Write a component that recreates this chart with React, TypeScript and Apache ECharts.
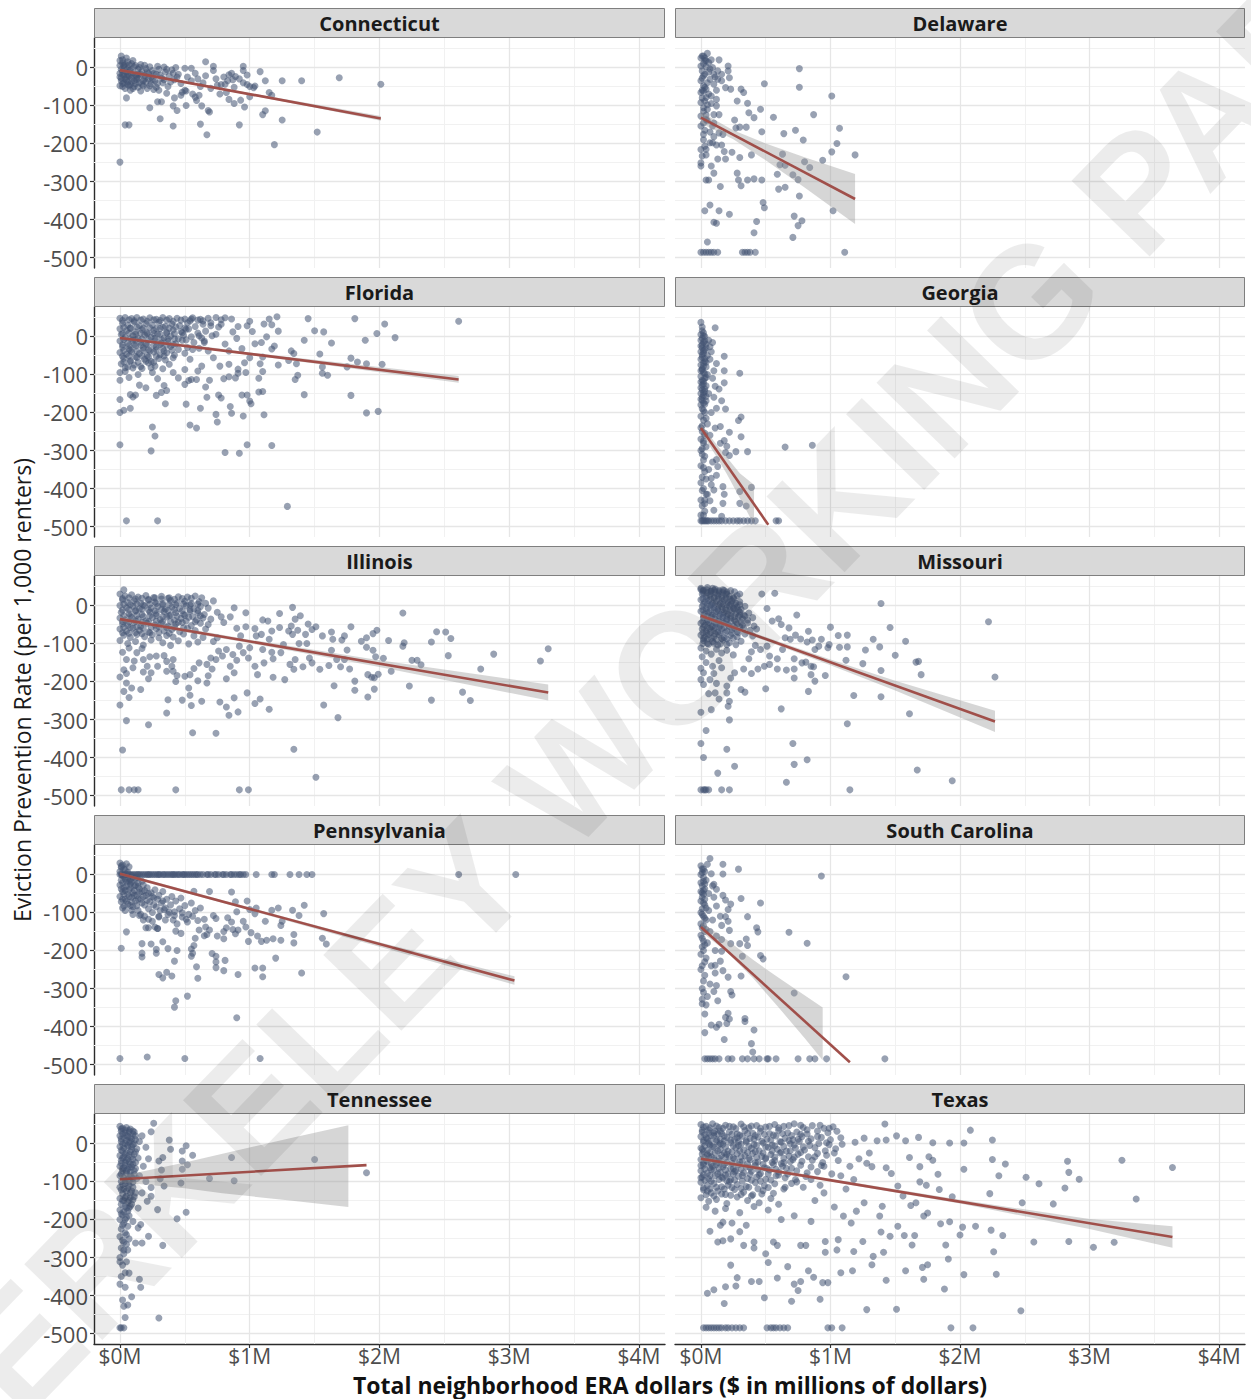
import React, { useEffect, useRef } from "react";
import * as echarts from "echarts";

type Pt = [number, number];
type BandRow = [number, number, number]; // [x, lower, upper]

// ---- facet order ----
const states = [
  "Connecticut", "Delaware", "Florida", "Georgia", "Illinois",
  "Missouri", "Pennsylvania", "South Carolina", "Tennessee", "Texas",
];

// ---- axis ticks ----
const yTicks = [0, -100, -200, -300, -400, -500];
const yMinor = [50, -50, -150, -250, -350, -450];
const xTicks = [0, 1, 2, 3, 4];
const xMinor = [0.5, 1.5, 2.5, 3.5];
const xTickLabel = (v: number) => `$${v}M`;

// ---- tract points: [ERA dollars ($M), eviction prevention rate] ----
const connecticutPts: Pt[] = [
  [0.01, 30], [0.05, 25], [0, 18], [0.02, 12], [0.04, 8], [0, 5], [0.03, 2], [0.06, -2], [0.01, -5], [0.08, -6],
  [0.02, -10], [0.05, -12], [0, -15], [0.1, -14], [0.03, -20], [0.07, -22], [0, -25], [0.12, -20], [0.04, -30], [0.09, -28],
  [0.01, -35], [0.06, -38], [0.13, -32], [0.02, -42], [0.08, -45], [0, -48], [0.15, -40], [0.11, -50], [0.04, -55], [0.18, -48],
  [0.14, -5], [0.17, -10], [0.2, -3], [0.22, -15], [0.19, -22], [0.25, -8], [0.24, -25], [0.28, -18], [0.3, -5], [0.27, -35],
  [0.32, -28], [0.35, -12], [0.33, -40], [0.38, -22], [0.4, -6], [0.42, -32], [0.37, -50], [0.45, -18], [0.47, -42], [0.21, -55],
  [0.26, -58], [0.16, -62], [0.08, -60], [0.3, -60], [0.12, 5], [0.09, 10], [0.16, 8], [0.23, 2], [0.29, 3], [0.34, 1],
  [0.43, 0], [0.5, -2], [0.52, -25], [0.55, -35], [0.58, -15], [0.6, -30], [0.62, -50], [0.64, -40], [0.66, -22], [0.7, -55],
  [0.72, -8], [0.74, -30], [0.78, -45], [0.8, -25], [0.83, -35], [0.86, -15], [0.88, -52], [0.92, -30], [0.95, -40], [0.98, -20],
  [1.0, -50], [0.5, -60], [0.56, -70], [0.48, -65], [0.06, -20], [0.11, -35], [0.19, -30], [0.07, -8], [0.14, -18], [0.24, -42],
  [0.55, -2], [0.66, 15], [0.72, 3], [0.95, 3], [0.95, -8], [1.08, -11], [1.12, -35], [1.25, -35], [1.4, -35], [1.69, -27],
  [2.01, -44], [0.05, -80], [0.23, -106], [0.31, -135], [0.41, -154], [0.04, -151], [0.07, -151], [0, -249], [0.62, -149], [0.67, -177],
  [0.92, -151], [1.1, -124], [1.12, -114], [1.25, -138], [1.19, -203], [1.52, -170], [0.29, -90], [0.32, -90], [0.41, -101], [0.44, -113],
  [0.51, -100], [0.59, -87], [0.63, -101], [0.68, -113], [0.69, -117], [0.84, -84], [0.88, -95], [0.96, -104], [0.93, -86], [0.82, -66],
  [0.81, -44], [0.75, -47], [0.61, -73], [0.47, -73], [0.51, -62], [1.0, -77], [1.03, -53], [1.15, -66], [1.17, -73], [0.87, -32],
  [0.84, -19], [0.89, -24], [0.98, -45], [1.04, -49], [0.36, -68], [0.42, -80], [0.58, -78], [0.77, -70],
  [0.02, 20], [0.06, 15], [0.1, 18], [0.03, 5], [0.07, 7], [0.11, 2], [0.15, 0], [0.19, 6], [0.02, -18], [0.05, -25],
  [0.09, -19], [0.13, -25], [0.16, -18], [0.21, -12], [0.26, -16], [0.31, -20], [0.01, -28], [0.05, -33], [0.09, -36], [0.14, -28],
  [0.18, -35], [0.22, -30], [0.03, -40], [0.07, -48], [0.12, -42], [0.17, -45], [0.2, -38], [0.25, -32], [0.29, -42], [0.34, -32],
  [0.02, -50], [0.06, -45], [0.1, -55], [0.14, -52], [0.23, -48], [0.28, -52], [0.39, -38], [0.44, -25], [0.36, -5], [0.41, -15],
];

const delawarePts: Pt[] = [
  [0.05, 37], [0.04, 18], [0.14, 20], [0.21, 4], [0.21, -9], [0.16, -18], [0.22, -27], [0.13, -31], [0.19, -53], [0.23, -57],
  [0.31, -57], [0.33, -66], [0.49, -43], [0.76, -3], [0.76, -52], [1.01, -75], [0.28, -88], [0.36, -94], [0.46, -110], [0.56, -131],
  [0.37, -119], [0.41, -132], [0.87, -124], [0.26, -138], [0.27, -159], [0.35, -157], [0.3, -157], [0.47, -169], [0.73, -165], [1.07, -160],
  [0.64, -174], [0.79, -191], [0.14, -172], [0.17, -176], [0.1, -182], [0.09, -198], [0.12, -204], [0.16, -204], [1.05, -200], [1.01, -222],
  [1.19, -230], [0.94, -244], [0.8, -248], [0.84, -263], [0.63, -228], [0.65, -257], [0.71, -282], [0.75, -295], [0.61, -256], [0.59, -281],
  [0.39, -230], [0.3, -237], [0.24, -223], [0.19, -241], [0.13, -241], [0.18, -221], [0.04, -230], [0, -259], [0.08, -259], [0.1, -278],
  [0.04, -296], [0.06, -296], [0.28, -278], [0.29, -296], [0.31, -311], [0.15, -313], [0.36, -296], [0.41, -293], [0.47, -296], [0.6, -320],
  [0.65, -315], [0.76, -338], [0.48, -355], [0.49, -369], [0.07, -362], [0.03, -377], [0.14, -377], [0.22, -386], [0.1, -407], [0.12, -410],
  [0.43, -405], [0.41, -435], [0.72, -391], [0.78, -403], [0.75, -416], [0.71, -447], [1.02, -377], [0.05, -459],
  [0, -486], [0.02, -486], [0.04, -486], [0.06, -486], [0.08, -486], [0.1, -486], [0.13, -486],
  [0.32, -486], [0.34, -486], [0.36, -486], [0.38, -486], [0.42, -486], [1.11, -486],
  [0, 4], [0.01, -9], [0.02, -22], [0, -35], [0.02, -48], [0, -66], [0.04, -79], [0, -92], [0.02, -106], [0.06, 13],
  [0.07, -4], [0.1, -18], [0.07, -31], [0.1, -44], [0.04, -57], [0.08, -75], [0.12, -84], [0.03, 18], [0.13, -9], [0.16, -35],
  [0.12, -101], [0, -128], [0.02, -146], [0, -154], [0.02, -176], [0.03, -207], [0, -216], [0.01, -233], [0, -251], [0.07, -198],
  [0.09, -154], [0.04, -137], [0.1, -124], [0.14, -124], [0.1, -146], [0, 25], [0.02, 30], [0.01, -60], [0.05, -110], [0.03, -165],
  [0.01, 30], [0.03, 25], [0.02, 10], [0.04, 2], [0.06, -12], [0.03, -18], [0.01, -28], [0.05, -40], [0.03, -52], [0.02, -62],
  [0.06, -70], [0.01, -80], [0.03, -88], [0.05, -98], [0.02, -115], [0.04, -125], [0.08, 20], [0.09, 0], [0.11, -25], [0.12, -60],
  [0.08, -95], [0.05, -140], [0.07, -170], [0.02, -190], [0.04, -215],
];

const floridaPts: Pt[] = [
  [0, 48], [0.04, 50], [0.09, 47], [0.13, 50], [0.18, 46], [0.23, 49], [0.28, 45], [0.33, 50], [0.38, 47], [0.44, 48],
  [0.5, 46], [0.56, 49], [0.62, 45], [0.68, 48], [0.74, 50], [0.78, 44],
  [0.02, 35], [0.06, 30], [0.11, 38], [0.15, 28], [0.2, 34], [0.25, 30], [0.3, 37], [0.35, 27], [0.4, 33], [0.46, 29],
  [0.52, 36], [0.58, 26], [0.64, 32], [0.7, 36], [0.76, 25],
  [0, 20], [0.05, 15], [0.08, 22], [0.12, 12], [0.17, 18], [0.21, 10], [0.26, 16], [0.31, 21], [0.36, 11], [0.41, 17],
  [0.47, 13], [0.53, 20], [0.6, 9], [0.66, 14],
  [0.01, 5], [0.04, -3], [0.1, 2], [0.14, -5], [0.19, 4], [0.24, -2], [0.29, 6], [0.34, -4], [0.39, 1], [0.45, -6],
  [0.49, 3], [0.55, -1], [0.63, -4], [0.71, 2],
  [0, -12], [0.06, -18], [0.1, -10], [0.16, -15], [0.2, -20], [0.27, -11], [0.32, -17], [0.37, -13], [0.43, -19], [0.48, -10],
  [0.57, -16], [0.65, -12],
  [0.02, -28], [0.07, -33], [0.12, -25], [0.18, -30], [0.22, -35], [0.28, -27], [0.33, -32], [0.39, -26], [0.45, -34], [0.52, -29],
  [0.61, -31],
  [0, -42], [0.05, -47], [0.09, -40], [0.15, -45], [0.21, -50], [0.26, -41], [0.31, -48], [0.36, -43], [0.42, -49], [0.5, -44],
  [0.03, -57], [0.08, -63], [0.13, -55], [0.19, -60], [0.24, -65], [0.3, -58], [0.35, -62], [0.41, -56],
  [0.01, -72], [0.06, -80], [0.11, -75], [0.17, -84], [0.22, -70], [0.27, -78], [0.33, -85], [0.38, -73],
  [0, -95], [0.04, -92], [0.14, -100], [0.07, -108], [0.25, -95], [0, -115],
  [0.02, 42], [0.07, 44], [0.11, 41], [0.16, 43], [0.21, 40], [0.26, 44], [0.31, 42], [0.36, 43], [0.41, 40], [0.47, 43], [0.54, 41], [0.6, 43],
  [0.03, 24], [0.08, 22], [0.13, 25], [0.18, 22], [0.23, 23], [0.28, 21], [0.33, 24], [0.38, 22], [0.43, 25], [0.5, 22],
  [0.02, 8], [0.07, 9], [0.12, 6], [0.16, 9], [0.21, 7], [0.26, 8], [0.31, 6], [0.36, 9], [0.42, 7], [0.48, 10],
  [0.03, -8], [0.08, -6], [0.12, -9], [0.17, -7], [0.22, -8], [0.27, -5], [0.32, -9], [0.37, -7], [0.42, -6], [0.51, -9],
  [0.02, -22], [0.07, -24], [0.11, -21], [0.16, -23], [0.21, -22], [0.26, -24], [0.31, -21], [0.36, -23], [0.41, -21],
  [0.03, -37], [0.08, -36], [0.13, -38], [0.18, -36], [0.23, -38], [0.28, -35], [0.34, -38], [0.4, -36],
  [0.02, -52], [0.07, -51], [0.12, -53], [0.17, -51], [0.22, -54], [0.28, -52], [0.34, -51],
  [0.03, -67], [0.08, -66], [0.14, -68], [0.2, -65], [0.26, -68],
  [0.04, -82], [0.1, -83], [0.16, -79], [0.24, -82],
  [0.05, -485], [0.29, -485], [1.29, -447], [0, -285], [0.24, -301], [0.27, -262], [0.25, -238], [0.54, -233], [0.59, -241], [0.81, -305],
  [0.92, -307], [0.98, -285], [1.17, -287], [0, -200], [0.03, -194], [0.08, -189], [0, -166], [0.74, -205], [0.75, -225], [0.86, -202],
  [0.95, -209], [1.11, -206], [1.9, -201], [1.99, -197], [0.51, -178], [0.62, -189], [0.67, -160], [0.76, -154], [0.78, -162], [0.85, -184],
  [0.94, -154], [0.98, -154], [1.0, -170], [1.01, -177], [1.07, -146], [1.1, -145], [1.42, -153], [1.78, -155], [0.35, -177], [0.08, -153],
  [0.1, -159], [0.12, -154], [0.15, -128], [0.2, -135], [0.28, -155], [0.32, -147], [0.36, -142], [0.34, -129], [0.29, -111], [0.41, -95],
  [0.45, -109], [0.5, -126], [0.53, -116], [0.55, -113], [0.59, -113], [0.66, -133], [0.69, -115], [0.8, -111], [0.84, -106], [0.89, -109],
  [0.91, -97], [0.97, -95], [1.07, -110], [1.1, -92], [1.35, -113], [1.37, -102], [1.56, -97], [1.6, -102], [1.75, -80], [1.78, -57],
  [1.83, -67], [1.9, -72], [2.02, -73], [1.56, -80], [1.54, -46], [1.34, -45], [1.32, -38], [1.22, -75], [1.3, -63], [1.36, -72],
  [1.42, -10], [1.45, 47], [1.5, 15], [1.57, 12], [1.63, -17], [1.81, 47], [1.89, -10], [1.98, 8], [2.04, 33], [2.12, -3],
  [2.61, 40], [1.21, 52], [1.15, 46], [1.11, 33], [1.17, 31], [1.22, 14], [1.0, 40], [0.98, 28], [1.02, 13], [1.04, -19],
  [1.09, -16], [1.13, -1], [1.19, -25], [1.17, -33], [1.1, -54], [1.08, -72], [1.0, -56], [0.94, -32], [0.9, -5], [0.87, 12],
  [0.91, 26], [0.81, 49], [0.86, 46], [0.78, 32], [0.74, 6], [0.81, -20], [0.84, -38], [0.84, -73], [0.77, -78], [0.91, -86],
  [0.96, -69], [0.72, -56], [0.68, -38], [0.65, -16], [0.61, 2], [0.7, 28], [0.64, 41], [0.55, 46], [0.51, 19], [0.56, -34],
  [0.54, -60], [0.5, -87], [0.63, -78], [0.6, -91],
];

const georgiaPts: Pt[] = [
  [0, 37], [0.01, 15], [0.02, 10], [0, 5], [0.03, 0], [0.01, -5], [0, -10], [0.02, -15], [0.04, -20], [0, -25],
  [0.01, -30], [0.03, -35], [0, -40], [0.02, -45], [0.05, -50], [0.01, -55], [0, -60], [0.03, -65], [0.02, -70], [0, -75],
  [0.04, -80], [0.01, -85], [0, -90], [0.02, -95], [0.05, -100], [0, -105], [0.03, -110], [0.01, -115], [0, -120], [0.02, -125],
  [0.04, -130], [0, -135], [0.01, -140], [0.03, -145], [0, -150], [0.02, -155], [0.01, -160], [0, -165], [0.04, -170], [0.02, -175],
  [0, -180], [0.01, -190], [0.03, -200], [0, -210], [0.02, -220], [0.05, -230], [0, -240], [0.01, -250], [0.03, -260], [0, -270],
  [0.02, -280], [0.04, -290], [0, -300], [0.01, -310], [0.02, -325], [0, -340], [0.03, -355], [0.01, -370], [0, -385], [0.02, -400],
  [0.04, -415], [0, -430], [0.01, -445], [0.03, -460], [0, -470],
  [0.01, 25], [0.02, 2], [0.03, -12], [0.01, -22], [0.04, -30], [0.02, -38], [0.01, -48], [0.03, -58], [0.04, -68], [0.02, -78],
  [0.01, -88], [0.03, -98], [0.04, -108], [0.02, -118], [0.01, -128], [0.03, -138], [0.02, -148], [0.04, -158], [0.01, -168], [0.03, -178],
  [0.02, -195], [0.04, -215], [0.01, -235], [0.03, -255], [0.02, -275], [0.01, -295], [0.03, -315], [0.02, -345], [0.04, -375], [0.01, -405],
  [0.03, -440], [0.02, -470],
  [0, -485], [0.01, -485], [0.02, -485], [0.03, -485], [0.04, -485], [0.05, -485], [0.06, -485], [0.08, -485], [0.1, -485], [0.12, -485],
  [0.14, -485], [0.16, -485], [0.19, -485], [0.22, -485], [0.25, -485], [0.28, -485], [0.3, -485], [0.33, -485], [0.36, -485], [0.39, -485],
  [0.42, -485], [0.58, -485], [0.6, -485],
  [0.11, 23], [0.09, -16], [0.07, -27], [0.18, -52], [0.12, -71], [0.18, -90], [0.3, -97], [0.1, -90], [0.18, -122], [0.14, -138],
  [0.11, -131], [0.16, -169], [0.19, -191], [0.12, -189], [0.31, -212], [0.29, -221], [0.15, -237], [0.11, -241], [0.22, -252], [0.31, -264],
  [0.18, -274], [0.15, -281], [0.2, -289], [0.22, -313], [0.27, -303], [0.36, -303], [0.65, -291], [0.86, -286], [0.19, -305], [0.12, -324],
  [0.13, -342], [0.08, -373], [0.17, -395], [0.1, -404], [0.18, -415], [0.3, -408], [0.39, -397], [0.17, -439], [0.3, -439], [0.35, -446],
  [0.1, -457], [0.07, -432], [0.03, -430], [0.05, -415], [0.16, -473],
  [0.06, -10], [0.08, -40], [0.07, -60], [0.09, -110], [0.06, -150], [0.08, -200], [0.1, -160], [0.07, -260], [0.09, -330], [0.06, -350],
  [0.12, -365], [0.08, -390],
];

const illinoisPts: Pt[] = [
  [0, 30], [0.04, 25], [0.09, 28], [0.14, 22], [0.2, 26], [0.26, 21], [0.32, 24], [0.38, 20], [0.45, 23], [0.52, 22], [0.58, 25], [0.63, 20],
  [0.02, 15], [0.06, 8], [0.11, 12], [0.16, 6], [0.22, 14], [0.27, 9], [0.33, 5], [0.39, 13], [0.44, 7], [0.5, 11], [0.55, 5], [0.61, 10], [0.66, 6], [0.72, 12],
  [0, 0], [0.05, -6], [0.1, -2], [0.15, -9], [0.19, -1], [0.24, -7], [0.29, -3], [0.35, -10], [0.4, -4], [0.46, -8], [0.51, -1], [0.57, -9], [0.62, -3], [0.68, -7],
  [0.01, -18], [0.07, -22], [0.12, -15], [0.17, -24], [0.23, -17], [0.28, -21], [0.34, -16], [0.39, -25], [0.43, -19], [0.49, -23], [0.54, -15], [0.6, -20], [0.65, -24], [0.75, -18],
  [0, -33], [0.04, -38], [0.09, -31], [0.14, -36], [0.2, -40], [0.25, -32], [0.31, -37], [0.36, -30], [0.42, -39], [0.47, -34], [0.53, -31], [0.59, -38], [0.64, -33], [0.7, -36], [0.78, -30],
  [0.02, -48], [0.06, -52], [0.11, -45], [0.16, -55], [0.21, -47], [0.27, -51], [0.32, -46], [0.37, -54], [0.43, -49], [0.48, -45], [0.55, -53], [0.62, -47], [0.68, -50],
  [0, -62], [0.05, -68], [0.1, -60], [0.15, -65], [0.22, -70], [0.28, -61], [0.34, -67], [0.4, -63], [0.46, -69], [0.52, -60], [0.58, -66], [0.66, -62],
  [0.03, -78], [0.08, -84], [0.13, -76], [0.19, -82], [0.25, -77], [0.3, -85], [0.36, -79], [0.41, -83], [0.49, -75], [0.57, -80], [0.64, -84],
  [0, -92], [0.06, -100], [0.12, -95], [0.18, -104], [0.24, -91], [0.33, -98], [0.39, -105], [0.45, -93], [0.53, -101], [0.6, -96],
  [0.02, 18], [0.07, 20], [0.12, 17], [0.17, 19], [0.22, 16], [0.27, 20], [0.32, 17], [0.37, 19], [0.42, 16], [0.48, 18], [0.55, 19],
  [0.03, 3], [0.08, 2], [0.13, 4], [0.18, 1], [0.23, 3], [0.28, 5], [0.33, 1], [0.38, 3], [0.43, 2], [0.49, 4], [0.54, 1], [0.6, 4],
  [0.02, -12], [0.07, -11], [0.12, -13], [0.17, -10], [0.22, -12], [0.27, -14], [0.32, -11], [0.37, -13], [0.42, -11], [0.48, -14], [0.54, -11], [0.6, -13],
  [0.03, -27], [0.08, -28], [0.13, -26], [0.18, -29], [0.23, -27], [0.28, -26], [0.33, -29], [0.38, -27], [0.44, -28], [0.5, -26], [0.56, -29], [0.62, -27],
  [0.02, -42], [0.07, -43], [0.12, -41], [0.17, -44], [0.22, -42], [0.28, -41], [0.33, -43], [0.39, -42], [0.45, -44], [0.51, -41], [0.58, -43],
  [0.03, -57], [0.08, -58], [0.13, -56], [0.18, -59], [0.24, -57], [0.3, -56], [0.36, -58], [0.42, -57], [0.49, -59],
  [0.02, -72], [0.07, -73], [0.12, -71], [0.17, -74], [0.23, -72], [0.3, -71], [0.38, -73],
  [0.03, 41], [0.01, -485], [0.07, -485], [0.11, -485], [0.14, -485], [0.43, -485], [0.92, -485], [0.99, -485],
  [0.02, -380], [1.34, -378], [1.51, -452], [0.56, -335], [0.74, -336], [0.05, -303], [0.22, -314], [0.36, -283], [0, -262], [0.37, -248],
  [0.48, -249], [0.55, -263], [0.63, -252], [0.77, -254], [0.82, -267], [0.84, -289], [0.91, -280], [0.88, -243], [0.98, -230], [1.04, -258],
  [1.08, -246], [1.15, -273], [1.57, -262], [1.68, -295], [1.65, -211], [1.81, -199], [1.81, -223], [1.91, -241], [1.96, -220], [2.23, -212],
  [2.4, -249], [2.64, -228], [2.7, -250], [2.78, -167], [2.88, -128], [3.24, -146], [3.3, -114], [2.18, -20], [2.44, -69], [2.51, -70],
  [2.55, -87], [2.53, -132], [2.4, -96], [2.25, -144], [2.32, -156], [2.29, -144], [2.18, -107], [2.19, -98], [2.09, -173], [2.07, -92],
  [2.03, -139], [1.98, -65], [1.95, -74], [1.9, -85], [1.86, -94], [1.9, -110], [1.95, -118], [1.97, -135], [1.91, -182], [1.94, -189],
  [1.99, -181], [1.96, -190], [1.78, -56], [1.73, -80], [1.71, -91], [1.75, -117], [1.73, -142], [1.77, -167], [1.7, -161], [1.67, -142],
  [1.63, -118], [1.64, -89], [1.63, -70], [1.56, -80], [1.51, -56], [1.45, -49], [1.48, -63], [1.43, -76], [1.44, -100], [1.46, -138],
  [1.48, -151], [1.54, -168], [1.61, -158], [1.41, -161], [1.34, -168], [1.31, -155], [1.35, -142], [1.38, -100], [1.37, -65], [1.39, -27],
  [1.33, -5], [1.35, -36], [1.32, -54], [1.3, -67], [1.33, -76], [1.26, -103], [1.24, -124], [1.27, -195], [1.18, -189], [1.18, -140],
  [1.17, -123], [1.15, -89], [1.23, -58], [1.23, -21], [1.17, -67], [1.14, -41], [1.1, -38], [1.09, -76], [1.1, -116], [1.11, -151],
  [1.06, -182], [1.04, -160], [0.99, -138], [1.0, -111], [0.97, -56], [0.97, -19], [1.04, -61], [1.05, -80], [0.93, -80], [0.92, -107],
  [0.95, -124], [0.9, -144], [0.85, -160], [0.82, -193], [0.88, -177], [0.79, -133], [0.76, -120], [0.74, -142], [0.71, -167], [0.68, -185],
  [0.67, -204], [0.6, -198], [0.53, -217], [0.54, -236], [0.5, -186], [0.43, -200], [0.41, -173], [0.44, -184], [0.36, -173], [0.29, -160],
  [0.24, -177], [0.22, -193], [0.16, -221], [0.09, -217], [0.07, -242], [0.03, -226], [0.05, -204], [0, -188], [0.03, -169], [0.05, -179],
  [0.1, -164], [0.18, -175], [0.21, -160], [0.28, -133], [0.34, -132], [0.4, -160], [0.41, -142], [0.36, -147], [0.54, -182], [0.57, -166],
  [0.61, -151], [0.67, -155], [0.7, -138], [0.82, -116], [0.87, -129], [0.02, -123], [0.07, -112], [0.13, -124], [0.17, -113], [0.23, -135],
  [0.18, -142], [0.11, -146], [0.05, -142], [0.88, -6], [0.8, -45], [0.85, -30], [0.9, -60], [0.75, -85], [0.72, -95],
];

const missouriPts: Pt[] = [
  [0, 45], [0.02, 40], [0.05, 47], [0.08, 38], [0.11, 43], [0.14, 36], [0.17, 41], [0.2, 35], [0.23, 39],
  [0.01, 30], [0.04, 24], [0.07, 28], [0.1, 21], [0.13, 27], [0.16, 22], [0.19, 30], [0.22, 24], [0.25, 20], [0.28, 26],
  [0, 15], [0.03, 9], [0.06, 13], [0.09, 6], [0.12, 11], [0.15, 5], [0.18, 14], [0.21, 8], [0.24, 12], [0.27, 6], [0.3, 10],
  [0.01, -2], [0.04, -8], [0.07, 0], [0.1, -6], [0.13, -10], [0.16, -3], [0.19, -9], [0.22, -1], [0.25, -7], [0.28, -4], [0.31, -10], [0.34, -2],
  [0, -15], [0.03, -22], [0.06, -18], [0.09, -25], [0.12, -16], [0.15, -23], [0.18, -19], [0.21, -24], [0.24, -15], [0.27, -21], [0.3, -17], [0.33, -25], [0.37, -20],
  [0.02, -32], [0.05, -38], [0.08, -30], [0.11, -36], [0.14, -40], [0.17, -31], [0.2, -37], [0.23, -33], [0.26, -39], [0.29, -30], [0.32, -35], [0.36, -38], [0.4, -32],
  [0, -47], [0.03, -52], [0.06, -45], [0.09, -55], [0.12, -49], [0.15, -53], [0.18, -46], [0.21, -51], [0.25, -55], [0.28, -48], [0.32, -52], [0.36, -46], [0.41, -54],
  [0.01, -62], [0.04, -68], [0.07, -60], [0.1, -66], [0.13, -70], [0.16, -61], [0.2, -67], [0.24, -63], [0.28, -69], [0.33, -60], [0.38, -65], [0.43, -62],
  [0, -78], [0.03, -84], [0.06, -76], [0.1, -82], [0.14, -77], [0.18, -85], [0.23, -79], [0.28, -83], [0.34, -75], [0.4, -80],
  [0.02, -92], [0.05, -100], [0.09, -95], [0.13, -104], [0.17, -91], [0.22, -98], [0.27, -103], [0.31, -94],
  [0, -112], [0.04, -120], [0.08, -128], [0.12, -115], [0.16, -125], [0.2, -118], [0.25, -130], [0.01, -135],
  [0.015, 38], [0.045, 41], [0.075, 37], [0.105, 40], [0.14, 39],
  [0.02, 33], [0.05, 34], [0.08, 32], [0.11, 35], [0.14, 31], [0.17, 34], [0.2, 30],
  [0.015, 18], [0.045, 19], [0.075, 17], [0.105, 20], [0.135, 18], [0.165, 17], [0.195, 19], [0.225, 16], [0.255, 18],
  [0.02, 3], [0.05, 4], [0.08, 2], [0.11, 3], [0.14, 1], [0.17, 4], [0.2, 2], [0.23, 3], [0.26, 1], [0.3, 2],
  [0.015, -12], [0.045, -13], [0.075, -11], [0.105, -12], [0.135, -14], [0.165, -11], [0.195, -13], [0.225, -12], [0.26, -10], [0.29, -13],
  [0.02, -27], [0.05, -28], [0.08, -26], [0.11, -29], [0.14, -27], [0.17, -26], [0.2, -28], [0.23, -27], [0.26, -29], [0.3, -26], [0.34, -28],
  [0.015, -42], [0.045, -43], [0.075, -41], [0.105, -44], [0.135, -42], [0.165, -43], [0.195, -41], [0.23, -43], [0.27, -42], [0.31, -44],
  [0.02, -57], [0.05, -58], [0.08, -56], [0.11, -59], [0.14, -57], [0.18, -58], [0.22, -56], [0.26, -59], [0.3, -57],
  [0.015, -72], [0.045, -73], [0.075, -71], [0.11, -74], [0.15, -72], [0.19, -71], [0.24, -73], [0.29, -72],
  [0.02, -87], [0.05, -88], [0.08, -86], [0.12, -89], [0.16, -87], [0.2, -88], [0.25, -86],
  [0.015, -100], [0.06, -102], [0.1, -99], [0.15, -101], [0.2, -103],
  [0, 42], [0.09, 45], [0.18, 39], [0.26, 36], [0.3, 30], [0.47, 30], [0.57, 32], [1.39, 5], [2.22, -43], [2.27, -188],
  [0.51, -8], [0.74, -25], [0.55, -41], [0.6, -35], [0.62, -50], [0.68, -59], [0.83, -68], [1.0, -57], [1.06, -79], [1.13, -78],
  [1.13, -109], [1.07, -110], [0.99, -103], [0.93, -89], [0.88, -116], [0.91, -107], [0.98, -111], [0.86, -91], [0.82, -96], [0.77, -88],
  [0.73, -78], [0.69, -89], [0.65, -85], [0.63, -116], [0.59, -140], [0.53, -133], [0.51, -107], [0.46, -116], [0.42, -105], [0.39, -122],
  [0.37, -140], [0.33, -167], [0.39, -179], [0.44, -167], [0.49, -160], [0.53, -155], [0.59, -167], [0.66, -170], [0.72, -167], [0.72, -140],
  [0.72, -191], [0.78, -151], [0.81, -149], [0.85, -160], [0.87, -161], [0.85, -182], [0.88, -199], [0.96, -184], [0.83, -226], [0.5, -219],
  [0.31, -221], [0.34, -228], [1.12, -144], [1.18, -237], [1.25, -153], [1.27, -117], [1.33, -89], [1.38, -109], [1.39, -171], [1.39, -240],
  [1.46, -58], [1.5, -131], [1.58, -94], [1.66, -149], [1.68, -147], [1.7, -182], [1.61, -285], [1.67, -433], [1.94, -461], [1.15, -485],
  [1.13, -311], [0.62, -272], [0.71, -363], [0.72, -418], [0.82, -406], [0.66, -465], [0.26, -423], [0.13, -441], [0.2, -378], [0.02, -400],
  [0, -363], [0.04, -329], [0, -281], [0.08, -274], [0.22, -301], [0.21, -265], [0.22, -252], [0.14, -246], [0.2, -230], [0.2, -212],
  [0.11, -230], [0.06, -232], [0.02, -208], [0, -195], [0.02, -177], [0.1, -179], [0.16, -164], [0.23, -191], [0.26, -177], [0.04, -150],
  [0.09, -160], [0.14, -145], [0, -165], [0.07, -195], [0.12, -205],
  [0, -485], [0.02, -485], [0.03, -485], [0.04, -485], [0.06, -485], [0.16, -485], [0.22, -485],
];

const pennsylvaniaPts: Pt[] = [
  [0, 0], [0.02, 0], [0.05, 0], [0.07, 0], [0.1, 0], [0.13, 0], [0.15, 0], [0.18, 0], [0.21, 0], [0.23, 0],
  [0.26, 0], [0.29, 0], [0.31, 0], [0.34, 0], [0.37, 0], [0.4, 0], [0.42, 0], [0.45, 0], [0.48, 0], [0.5, 0],
  [0.53, 0], [0.56, 0], [0.59, 0], [0.62, 0], [0.64, 0], [0.67, 0], [0.7, 0], [0.73, 0], [0.76, 0], [0.79, 0],
  [0.82, 0], [0.85, 0], [0.88, 0], [0.9, 0], [0.93, 0], [0.95, 0], [0.97, 0], [1.05, 0], [1.17, 0], [1.19, 0],
  [1.31, 0], [1.38, 0], [1.44, 0], [1.48, 0], [2.61, 0], [3.05, 0],
  [0.01, 0], [0.035, 0], [0.06, 0], [0.085, 0], [0.115, 0], [0.14, 0], [0.165, 0], [0.195, 0], [0.22, 0], [0.245, 0],
  [0.275, 0], [0.3, 0], [0.33, 0], [0.355, 0], [0.385, 0], [0.41, 0], [0.435, 0], [0.46, 0], [0.49, 0], [0.515, 0],
  [0.545, 0], [0.575, 0], [0.6, 0], [0.68, 0], [0.74, 0], [0.8, 0], [0.86, 0], [0.92, 0],
  [0, 30], [0.02, 25], [0.05, 28], [0.01, 18], [0.04, 12], [0.07, 20], [0, 8], [0.03, -5], [0.06, -10], [0.09, -3],
  [0.01, -15], [0.05, -20], [0.08, -25], [0.12, -12], [0, -28], [0.03, -35], [0.07, -40], [0.11, -30], [0.14, -22], [0.02, -45],
  [0.06, -52], [0.1, -48], [0.15, -38], [0.18, -28], [0, -58], [0.04, -65], [0.09, -60], [0.13, -55], [0.17, -45], [0.21, -35],
  [0.01, -72], [0.06, -78], [0.12, -70], [0.16, -65], [0.2, -55], [0.24, -48], [0.27, -40], [0.19, -80], [0.23, -72], [0.26, -62],
  [0.3, -55], [0.33, -45], [0.22, -90], [0.28, -85], [0.32, -75], [0.36, -65], [0.4, -58], [0.14, -95], [0.25, -100], [0.31, -95],
  [0.35, -88], [0.39, -80], [0.43, -70], [0.47, -62], [0.3, -112], [0.37, -105], [0.42, -98], [0.46, -90], [0.5, -82], [0.55, -75],
  [0.41, -120], [0.48, -112], [0.53, -105], [0.58, -95], [0.62, -88], [0.08, -15], [0.13, -8], [0.17, -18], [0.1, -85], [0.04, -95],
  [0.02, -88], [0.16, -105], [0.19, -110], [0.35, -120], [0.44, -130], [0.52, -125],
  [0.01, 22], [0.03, 14], [0.06, 6], [0.02, -3], [0.04, -12], [0.07, -18], [0.1, -8], [0.02, -22], [0.05, -30], [0.09, -20],
  [0.12, -28], [0.01, -38], [0.04, -42], [0.08, -35], [0.11, -42], [0.14, -32], [0.03, -52], [0.07, -58], [0.11, -55], [0.15, -48],
  [0.19, -42], [0.02, -65], [0.05, -70], [0.09, -72], [0.14, -65], [0.18, -58], [0.22, -50], [0.08, -82], [0.13, -82], [0.17, -75],
  [0.21, -68], [0.25, -58], [0.29, -65], [0.26, -80], [0.33, -70],
  [0, -484], [0.21, -480], [0.5, -484], [1.08, -484], [0.9, -377], [0.42, -349], [0.43, -332], [0.52, -320], [0.3, -263], [0.33, -272],
  [0.36, -257], [0.4, -267], [0.6, -273], [0.59, -243], [0.74, -245], [0.8, -253], [0.91, -263], [1.04, -246], [1.1, -246], [1.1, -269],
  [1.4, -259], [1.2, -220], [0.81, -226], [0.74, -230], [0.74, -215], [0.71, -208], [0.56, -207], [0.55, -215], [0.55, -196], [0.57, -187],
  [0.42, -228], [0.44, -200], [0.37, -195], [0.33, -177], [0.28, -197], [0.28, -207], [0.24, -183], [0.17, -182], [0.17, -207], [0.17, -217],
  [0.01, -194], [0.05, -151], [0.2, -140], [0.22, -140], [0.29, -142], [0.43, -149], [0.47, -155], [0.58, -168], [0.61, -146], [0.66, -138],
  [0.69, -146], [0.67, -158], [0.65, -161], [0.75, -162], [0.8, -169], [0.8, -150], [0.82, -140], [0.87, -145], [0.89, -156], [0.91, -146],
  [0.95, -123], [0.97, -138], [1.01, -153], [0.99, -176], [1.06, -162], [1.09, -176], [1.13, -173], [1.18, -169], [1.24, -173], [1.34, -158],
  [1.34, -180], [1.24, -134], [1.12, -123], [1.04, -103], [1.0, -92], [0.98, -70], [0.89, -72], [0.86, -46], [0.69, -45], [0.57, -44],
  [0.9, -98], [0.83, -114], [0.86, -125], [0.74, -116], [0.72, -108], [0.65, -118], [0.6, -121], [0.56, -110], [0.51, -118], [0.48, -101],
  [0.42, -108], [0.38, -99], [0.34, -92], [0.3, -110], [0.25, -123], [0.29, -142], [0.27, -138], [0.22, -118], [0.18, -120], [0.15, -108],
  [0.1, -105], [0.09, -94], [0.03, -83], [1.05, -88], [1.17, -94], [1.22, -88], [1.33, -94], [1.38, -108], [1.42, -81], [1.57, -103],
  [1.56, -168], [1.59, -183], [1.25, -123],
];

const southCarolinaPts: Pt[] = [
  [0, 23], [0.01, 15], [0.03, 8], [0, 0], [0.02, -8], [0.04, -15], [0, -22], [0.01, -30], [0.03, -38], [0, -45],
  [0.02, -52], [0.01, -60], [0, -70], [0.03, -80], [0.01, -90], [0, -100], [0.02, -110], [0.04, -120], [0, -130], [0.01, -140],
  [0.03, -150], [0, -160], [0.02, -175], [0.01, -190], [0, -210], [0.03, -230], [0, -250], [0.02, -280], [0.01, -300],
  [0.01, 5], [0.02, -18], [0.03, -25], [0.02, -42], [0.01, -48], [0.03, -65], [0.02, -75], [0.04, -88], [0.01, -105], [0.03, -115],
  [0.02, -135], [0.04, -145], [0.01, -168], [0.03, -185], [0.02, -200], [0.04, -220], [0.01, -240], [0.03, -265], [0.02, -310], [0.01, -340],
  [0.07, 42], [0.05, 27], [0.17, 27], [0.29, 14], [0.93, -4], [0.02, 14], [0.08, 2], [0.1, -26], [0.12, -39], [0.17, 1],
  [0.17, -55], [0.19, -67], [0.23, -78], [0.31, -63], [0.46, -75], [0.21, -92], [0.12, -83], [0.19, -111], [0.21, -123], [0.16, -134],
  [0.36, -111], [0.43, -140], [0.44, -151], [0.68, -152], [0.22, -147], [0.35, -170], [0.3, -182], [0.36, -187], [0.23, -182], [0.16, -171],
  [0.12, -162], [0.82, -181], [0.16, -202], [0.46, -213], [0.48, -222], [0.32, -215], [0.15, -228], [0.11, -239], [0.17, -253], [0.21, -270],
  [0.31, -267], [1.12, -269], [0.11, -259], [0.07, -288], [0.12, -292], [0.1, -308], [0.23, -308], [0.24, -317], [0.72, -312], [0.01, -328],
  [0.05, -321], [0.13, -332], [0.04, -343], [0.03, -367], [0.21, -365], [0.19, -376], [0.22, -380], [0.2, -392], [0.14, -394], [0.08, -396],
  [0.12, -402], [0.34, -379], [0.34, -387], [0.41, -409], [0.03, -416], [0.18, -434], [0.39, -445], [0.4, -467],
  [0.06, -50], [0.09, -120], [0.05, -180], [0.08, -240], [0.07, -150], [0.1, -60], [0.06, -95], [0.11, -200], [0.15, -110], [0.09, -30],
  [0.03, -485], [0.05, -485], [0.07, -485], [0.09, -485], [0.11, -485], [0.14, -485], [0.21, -485], [0.24, -485], [0.32, -485], [0.36, -485],
  [0.41, -485], [0.45, -485], [0.51, -485], [0.52, -485], [0.58, -485], [0.75, -485], [0.84, -485], [0.88, -485], [0.97, -485], [1.42, -485],
];

const tennesseePts: Pt[] = [
  [0, 45], [0.02, 40], [0.05, 42], [0.08, 38], [0.01, 32], [0.04, 28], [0.07, 30], [0.1, 25], [0, 20], [0.03, 15],
  [0.06, 18], [0.09, 12], [0.12, 10], [0.01, 5], [0.04, 0], [0.07, 3], [0.1, -3], [0, -8], [0.03, -12], [0.06, -10],
  [0.09, -16], [0.13, -14], [0.02, -20], [0.05, -25], [0.08, -22], [0.11, -28], [0, -32], [0.03, -36], [0.06, -40], [0.09, -35],
  [0.14, -38], [0.01, -45], [0.04, -50], [0.07, -48], [0.1, -55], [0, -60], [0.03, -64], [0.06, -68], [0.09, -62], [0.12, -66],
  [0.02, -72], [0.05, -78], [0.08, -75], [0.11, -82], [0, -85], [0.03, -90], [0.06, -95], [0.09, -88], [0.13, -92], [0.01, -100],
  [0.04, -105], [0.07, -110], [0.1, -102], [0, -115], [0.03, -120], [0.06, -118], [0.09, -125], [0.12, -130], [0.02, -132], [0.05, -138],
  [0.08, -142], [0, -145], [0.03, -150], [0.06, -155], [0.1, -148], [0.01, -160], [0.04, -165], [0.07, -170], [0, -175], [0.03, -180],
  [0.06, -178], [0.02, -188], [0.05, -195], [0, -200], [0.03, -210], [0.06, -218], [0.01, -225], [0.04, -235], [0, -245], [0.02, -255],
  [0.05, -265], [0.01, -275], [0.03, -290], [0, -300],
  [0.01, 38], [0.04, 35], [0.07, 34], [0.11, 30], [0.02, 25], [0.05, 21], [0.08, 16], [0.12, 20], [0.01, 12], [0.05, 8],
  [0.08, 6], [0.11, 0], [0.02, -2], [0.06, -5], [0.09, -8], [0.12, -22], [0.01, -18], [0.04, -28], [0.07, -30], [0.1, -42],
  [0.02, -38], [0.05, -44], [0.08, -55], [0.12, -50], [0.01, -52], [0.04, -58], [0.07, -62], [0.11, -72], [0.02, -66], [0.05, -72],
  [0.08, -85], [0.1, -92], [0.01, -80], [0.04, -96], [0.07, -100], [0.1, -115], [0.02, -108], [0.05, -125], [0.08, -130], [0.11, -140],
  [0.01, -122], [0.04, -142], [0.07, -150], [0.09, -160], [0.02, -150], [0.05, -170], [0.08, -165], [0.01, -185], [0.04, -200], [0.07, -190],
  [0.02, -215], [0.05, -240], [0.03, -260], [0.06, -280], [0.02, -320], [0.01, -350], [0.04, -340],
  [0.26, 53], [0.24, 31], [0.17, 20], [0.1, 33], [0.38, 9], [0.39, -15], [0.48, -20], [0.51, -6], [0.56, -31], [0.48, -46],
  [0.52, -56], [0.48, -68], [0.33, -37], [0.3, -46], [0.22, -40], [0.32, -70], [0.86, -37], [1.5, -42], [1.9, -77], [0.69, -92],
  [0.88, -98], [0.47, -104], [0.34, -112], [0.31, -93], [0.24, -116], [0.17, -130], [0.24, -139], [0.21, -152], [0.29, -174], [0.51, -181],
  [0.44, -198], [0.16, -213], [0.1, -205], [0.14, -222], [0.22, -244], [0.12, -262], [0.17, -262], [0.33, -268], [0.07, -251], [0.03, -280],
  [0, -311], [0.05, -311], [0.07, -341], [0, -370], [0.04, -378], [0.15, -357], [0.16, -378], [0.09, -403], [0.02, -412], [0.03, -428],
  [0.06, -425], [0.04, -458], [0.3, -459], [0, -485], [0.01, -485], [0.03, -485],
  [0.15, 5], [0.2, -10], [0.18, -60], [0.15, -85], [0.2, -100], [0.14, -170],
];

const texasPts: Pt[] = [
  [0, 50], [0.04, 45], [0.09, 52], [0.14, 42], [0.19, 48], [0.25, 44], [0.31, 51], [0.37, 41], [0.43, 47], [0.5, 43], [0.57, 50], [0.64, 45], [0.72, 52], [0.79, 42], [0.86, 47], [0.95, 40], [1.02, 44],
  [0.01, 35], [0.06, 28], [0.11, 33], [0.16, 26], [0.22, 31], [0.28, 25], [0.34, 34], [0.4, 27], [0.46, 32], [0.53, 26], [0.6, 35], [0.67, 28], [0.74, 30], [0.82, 25], [0.9, 33], [0.98, 28], [1.05, 32],
  [0, 18], [0.05, 12], [0.1, 20], [0.15, 11], [0.2, 16], [0.26, 10], [0.32, 19], [0.38, 13], [0.44, 17], [0.51, 11], [0.58, 20], [0.65, 14], [0.71, 10], [0.78, 18], [0.85, 12], [0.93, 16], [1.0, 10], [1.08, 15],
  [0.02, 3], [0.07, -4], [0.12, 5], [0.17, -2], [0.23, 2], [0.29, -5], [0.35, 4], [0.41, -3], [0.48, 1], [0.55, -4], [0.62, 3], [0.69, -1], [0.76, 5], [0.84, -5], [0.91, 0], [0.99, -3],
  [0, -12], [0.05, -18], [0.1, -10], [0.15, -16], [0.21, -20], [0.27, -11], [0.33, -17], [0.39, -13], [0.45, -19], [0.52, -10], [0.59, -15], [0.66, -20], [0.73, -12], [0.8, -17], [0.88, -11], [0.96, -19], [1.04, -14],
  [0.01, -28], [0.06, -33], [0.11, -25], [0.16, -31], [0.22, -35], [0.28, -27], [0.34, -32], [0.4, -26], [0.47, -34], [0.54, -29], [0.61, -25], [0.68, -33], [0.75, -28], [0.83, -35], [0.9, -26], [0.97, -31],
  [0, -42], [0.05, -48], [0.1, -40], [0.15, -46], [0.2, -50], [0.26, -41], [0.32, -47], [0.38, -43], [0.44, -49], [0.5, -40], [0.57, -45], [0.64, -50], [0.71, -42], [0.78, -47], [0.86, -44], [0.94, -50],
  [0.02, -57], [0.07, -63], [0.12, -55], [0.17, -61], [0.23, -65], [0.29, -56], [0.35, -62], [0.42, -58], [0.49, -64], [0.56, -55], [0.63, -60], [0.7, -65], [0.77, -57], [0.85, -62], [0.93, -58],
  [0, -72], [0.05, -78], [0.1, -70], [0.15, -76], [0.21, -80], [0.27, -71], [0.33, -77], [0.39, -73], [0.46, -79], [0.53, -70], [0.6, -75], [0.67, -80], [0.74, -72], [0.82, -77], [0.9, -74],
  [0.01, -88], [0.06, -93], [0.11, -85], [0.17, -91], [0.23, -95], [0.29, -86], [0.36, -92], [0.43, -88], [0.5, -94], [0.58, -85], [0.65, -90], [0.73, -95], [0.81, -87],
  [0, -102], [0.05, -110], [0.1, -105], [0.16, -114], [0.22, -100], [0.28, -108], [0.35, -113], [0.42, -103], [0.49, -111], [0.57, -106], [0.65, -115], [0.74, -101],
  [0.02, -122], [0.08, -130], [0.13, -125], [0.19, -134], [0.26, -121], [0.33, -128], [0.4, -135], [0.48, -124], [0.56, -131], [0.64, -120],
  [0, -143], [0.06, -152], [0.12, -147], [0.2, -158], [0.28, -141], [0.36, -150], [0.45, -156], [0.54, -145],
  [0.04, -168], [0.11, -178], [0.19, -171], [0.3, -182], [0.41, -166], [0.52, -175],
  [0.02, 43], [0.07, 41], [0.12, 46], [0.17, 40], [0.22, 45], [0.27, 39], [0.33, 44], [0.39, 46], [0.46, 40], [0.53, 45], [0.6, 41], [0.68, 47],
  [0.03, 23], [0.08, 21], [0.13, 25], [0.18, 20], [0.24, 24], [0.3, 22], [0.36, 26], [0.42, 21], [0.49, 24], [0.56, 22], [0.63, 26], [0.7, 21], [0.77, 24],
  [0.02, 8], [0.07, 6], [0.12, 10], [0.18, 7], [0.23, 9], [0.29, 5], [0.35, 8], [0.41, 11], [0.47, 6], [0.54, 9], [0.61, 5], [0.68, 8], [0.75, 11], [0.83, 6],
  [0.03, -6], [0.09, -8], [0.14, -4], [0.19, -9], [0.25, -6], [0.31, -2], [0.37, -8], [0.43, -5], [0.5, -9], [0.57, -6], [0.64, -8], [0.72, -4], [0.79, -9],
  [0.02, -21], [0.07, -24], [0.13, -20], [0.18, -25], [0.24, -22], [0.3, -19], [0.36, -24], [0.42, -21], [0.48, -25], [0.55, -20], [0.62, -23], [0.69, -19], [0.77, -24],
  [0.03, -37], [0.08, -35], [0.14, -39], [0.19, -36], [0.25, -38], [0.31, -35], [0.37, -39], [0.43, -36], [0.5, -38], [0.57, -36], [0.64, -39], [0.72, -36],
  [0.02, -52], [0.08, -54], [0.13, -50], [0.18, -55], [0.24, -52], [0.3, -49], [0.36, -54], [0.42, -51], [0.48, -55], [0.55, -50], [0.62, -53], [0.69, -48],
  [0.03, -67], [0.08, -69], [0.14, -65], [0.19, -70], [0.25, -66], [0.31, -68], [0.38, -64], [0.44, -69], [0.51, -66], [0.58, -68], [0.66, -65],
  [0.02, -82], [0.07, -84], [0.13, -80], [0.19, -83], [0.25, -80], [0.32, -84], [0.38, -81], [0.45, -83], [0.52, -80], [0.6, -83],
  [0.03, -97], [0.08, -99], [0.14, -95], [0.2, -98], [0.26, -96], [0.32, -99], [0.39, -97], [0.46, -99], [0.54, -96],
  [0.02, -117], [0.07, -119], [0.12, -115], [0.18, -120], [0.24, -116], [0.31, -118], [0.37, -115], [0.44, -119], [0.52, -116],
  [0.04, -135], [0.1, -138], [0.16, -133], [0.23, -136], [0.31, -134], [0.39, -138], [0.47, -133],
  [0.01, 30], [0.04, 15], [0.06, 0], [0.01, -15], [0.05, -30], [0, -58], [0.04, -45], [0.09, -60], [0, -90], [0.05, -125],
  [0.1, 28], [0.15, 0], [0.11, -45], [0.16, -88], [0.21, -110], [0.06, 36], [0.15, 33], [0.2, -28], [0.26, -74], [0.28, 15],
  [0.82, 36], [0.9, 18], [0.97, 2], [1.03, -25], [0.88, -35], [0.95, -60], [1.01, -80], [0.85, -95], [0.92, -110], [1.06, -45],
  [0.79, -115], [0.7, -105], [1.09, -2], [0.99, 40], [0.92, 48], [0.77, 48],
  [1.42, 51], [2.08, 35], [2.25, 9], [1.92, 1], [2.03, 1], [1.79, 2], [1.68, 16], [1.58, 7], [1.51, 20], [1.43, 9],
  [1.36, 7], [1.26, 14], [1.19, 3], [3.25, -44], [3.64, -63], [2.83, -47], [2.84, -76], [2.92, -94], [2.81, -117], [3.36, -146],
  [2.61, -106], [2.51, -89], [2.3, -85], [2.35, -54], [2.25, -42], [2.03, -68], [2.23, -132], [2.48, -156], [2.72, -159], [2.57, -259],
  [2.84, -258], [3.03, -273], [3.19, -260], [2.33, -242], [2.24, -228], [2.26, -285], [2.28, -344], [2.12, -218], [2.02, -220], [2.0, -241],
  [1.92, -206], [1.85, -211], [1.89, -267], [1.91, -304], [2.03, -345], [1.88, -383], [2.47, -440], [1.93, -485], [2.1, -485], [1.51, -436],
  [1.28, -437], [1.43, -360], [1.58, -335], [1.72, -357], [1.71, -326], [1.75, -319], [1.63, -267], [1.57, -242], [1.46, -244], [1.39, -233],
  [1.41, -286], [1.32, -319], [1.33, -297], [1.25, -258], [1.18, -284], [1.17, -335], [1.08, -340], [1.05, -280], [0.96, -286], [0.98, -366],
  [0.94, -366], [0.92, -410], [0.87, -352], [0.83, -335], [0.77, -363], [0.75, -387], [0.7, -415], [0.72, -370], [0.67, -324], [0.59, -354],
  [0.52, -313], [0.49, -406], [0.45, -363], [0.39, -363], [0.27, -375], [0.28, -353], [0.23, -320], [0.19, -377], [0.18, -421], [0.1, -385],
  [0.05, -394], [0.41, -259], [0.41, -275], [0.33, -268], [0.3, -232], [0.23, -251], [0.13, -259], [0.17, -256], [0.07, -231], [0.17, -207],
  [0.24, -209], [0.5, -290], [0.56, -259], [0.59, -268], [0.77, -268], [0.81, -268], [0.96, -258], [1.06, -253], [1.16, -209], [1.52, -218],
  [1.65, -242], [1.72, -191], [1.75, -183], [1.66, -156], [1.62, -163], [1.56, -138], [1.52, -112], [1.47, -79], [1.43, -64], [1.32, -61],
  [1.28, -52], [1.61, -37], [1.69, -61], [1.76, -35], [1.79, -44], [1.83, -81], [1.84, -121], [1.94, -140], [1.74, -110], [1.69, -101],
  [1.4, -165], [1.38, -191], [1.26, -156], [1.2, -178], [1.1, -191], [1.03, -167], [1.12, -120], [1.18, -95], [1.22, -40], [1.3, -25],
  [1.15, -60], [1.08, -85], [0.95, -130], [0.88, -150], [0.72, -190], [0.62, -200], [0.85, -205], [0.35, -215], [0.15, -215], [0.6, -160],
  [0.02, -485], [0.04, -485], [0.06, -485], [0.08, -485], [0.1, -485], [0.12, -485], [0.14, -485], [0.16, -485], [0.19, -485], [0.21, -485],
  [0.24, -485], [0.27, -485], [0.3, -485], [0.33, -485], [0.51, -485], [0.54, -485], [0.56, -485], [0.58, -485], [0.61, -485], [0.64, -485],
  [0.67, -485], [0.98, -485], [1.01, -485], [1.09, -485],
];

// ---- linear fits: [[xStart, yStart], [xEnd, yEnd]] ----
const connecticutFit: Pt[] = [[0, -7], [2.01, -134]];
const delawareFit: Pt[] = [[0, -132], [1.19, -346]];
const floridaFit: Pt[] = [[0, -4], [2.61, -113]];
const georgiaFit: Pt[] = [[0, -241], [0.52, -495]];
const illinoisFit: Pt[] = [[0, -36], [3.3, -229]];
const missouriFit: Pt[] = [[0, -27], [2.27, -305]];
const pennsylvaniaFit: Pt[] = [[0, 2], [3.04, -279]];
const southCarolinaFit: Pt[] = [[0, -138], [1.15, -494]];
const tennesseeFit: Pt[] = [[0, -94], [1.9, -57]];
const texasFit: Pt[] = [[0, -40], [3.64, -246]];

// ---- confidence bands: [x, lower, upper] ----
const connecticutBand: BandRow[] = [[0, -11, -3], [0.5, -40, -36], [1.0, -73, -67], [1.5, -105, -97], [2.01, -140, -128]];
const delawareBand: BandRow[] = [[0, -147, -117], [0.25, -189, -165], [0.5, -244, -200], [0.8, -316, -236], [1.19, -412, -280]];
const floridaBand: BandRow[] = [[0, -7, -1], [0.5, -26, -20], [1.0, -49, -42], [1.5, -71, -61], [2.0, -94, -80], [2.61, -122, -104]];
const georgiaBand: BandRow[] = [[0, -252, -230], [0.1, -305, -275], [0.2, -362, -318], [0.3, -425, -360], [0.41, -495, -390]];
const illinoisBand: BandRow[] = [[0, -42, -30], [1.0, -99, -90], [2.0, -162, -144], [3.3, -250, -208]];
const missouriBand: BandRow[] = [[0, -35, -19], [0.5, -93, -83], [1.0, -157, -142], [1.5, -224, -198], [2.27, -333, -277]];
const pennsylvaniaBand: BandRow[] = [[0, -2, 6], [1.0, -94, -87], [2.0, -190, -178], [3.04, -290, -268]];
const southCarolinaBand: BandRow[] = [[0, -150, -126], [0.2, -204, -172], [0.4, -272, -224], [0.6, -350, -272], [0.8, -430, -318], [0.94, -489, -350]];
const tennesseeBand: BandRow[] = [[0, -103, -85], [0.1, -105, -79], [0.5, -118, -50], [0.79, -131, -27], [1.31, -150, 14], [1.76, -167, 48]];
const texasBand: BandRow[] = [[0, -47, -33], [1.0, -100, -93], [2.0, -158, -148], [3.0, -225, -199], [3.64, -274, -218]];

const panelPts = [connecticutPts, delawarePts, floridaPts, georgiaPts, illinoisPts, missouriPts, pennsylvaniaPts, southCarolinaPts, tennesseePts, texasPts];
const panelFits = [connecticutFit, delawareFit, floridaFit, georgiaFit, illinoisFit, missouriFit, pennsylvaniaFit, southCarolinaFit, tennesseeFit, texasFit];
const panelBands = [connecticutBand, delawareBand, floridaBand, georgiaBand, illinoisBand, missouriBand, pennsylvaniaBand, southCarolinaBand, tennesseeBand, texasBand];

// ---- layout ----
const CHART_W = 1251;
const CHART_H = 1399;
const COL_LEFT = [94, 675];
const COL_W = [571, 570];
const TOP0 = 8;
const ROW_STEP = 269;
const STRIP_H = 30;
const PLOT_H = 230;
const X_RANGE = [-0.2, 4.2];
const Y_RANGE = [-527.5, 77.5];

const FONT = "'Open Sans', 'Noto Sans', sans-serif";
const POINT_COLOR = "#435472";
const FIT_COLOR = "#a04f4a";
const BAND_FILL = "rgba(153,153,153,0.4)";
const GRID_MAJOR = { color: "#e6e6e6", width: 1.3, type: "solid" };
const GRID_MINOR = { color: "#f1f1f1", width: 1, type: "solid" };

function buildOption() {
  const grids: any[] = [];
  const xAxes: any[] = [];
  const yAxes: any[] = [];
  const series: any[] = [];
  const graphics: any[] = [];

  states.forEach((name, i) => {
    const r = Math.floor(i / 2);
    const c = i % 2;
    const top = TOP0 + ROW_STEP * r + STRIP_H;
    const isBottom = r === 4;
    const isLeft = c === 0;

    grids.push({ left: COL_LEFT[c], top, width: COL_W[c], height: PLOT_H, containLabel: false });

    xAxes.push({
      gridIndex: i,
      type: "value",
      min: X_RANGE[0],
      max: X_RANGE[1],
      axisLine: { show: isBottom, onZero: false, lineStyle: { color: "#2b2b2b", width: 1.4 } },
      axisTick: { show: isBottom, customValues: xTicks, length: 4, lineStyle: { color: "#333333", width: 1.2 } },
      axisLabel: {
        show: isBottom,
        customValues: xTicks,
        formatter: (v: number) => (xTicks.includes(v) ? xTickLabel(v) : ""),
        fontFamily: FONT,
        fontSize: 21,
        lineHeight: 21,
        color: "#4d4d4d",
        margin: 1,
      },
      splitLine: { show: false },
    });

    yAxes.push({
      gridIndex: i,
      type: "value",
      min: Y_RANGE[0],
      max: Y_RANGE[1],
      axisLine: { show: isLeft, onZero: false, lineStyle: { color: "#2b2b2b", width: 1.4 } },
      axisTick: { show: isLeft, customValues: yTicks, length: 4, lineStyle: { color: "#333333", width: 1.2 } },
      axisLabel: {
        show: isLeft,
        customValues: yTicks,
        formatter: (v: number) => (yTicks.includes(v) ? String(v) : ""),
        fontFamily: FONT,
        fontSize: 22,
        color: "#4d4d4d",
        margin: 6,
      },
      splitLine: { show: false },
    });

    const gridLines = [
      ...yMinor.map((v) => ({ yAxis: v, lineStyle: GRID_MINOR })),
      ...xMinor.map((v) => ({ xAxis: v, lineStyle: GRID_MINOR })),
      ...yTicks.map((v) => ({ yAxis: v, lineStyle: GRID_MAJOR })),
      ...xTicks.map((v) => ({ xAxis: v, lineStyle: GRID_MAJOR })),
    ];

    series.push({
      type: "scatter",
      xAxisIndex: i,
      yAxisIndex: i,
      data: panelPts[i],
      symbol: "circle",
      symbolSize: 7,
      itemStyle: { color: POINT_COLOR, opacity: 0.55 },
      silent: true,
      z: 2,
      markLine: {
        silent: true,
        z: 1,
        symbol: ["none", "none"],
        label: { show: false },
        emphasis: { disabled: true },
        data: gridLines,
      },
    });

    const band = panelBands[i];
    series.push({
      type: "custom",
      xAxisIndex: i,
      yAxisIndex: i,
      data: band.map((b) => [b[0], b[1], b[2]]),
      encode: { x: 0, y: [1, 2] },
      silent: true,
      z: 3,
      renderItem: (params: any, api: any) => {
        if (params.dataIndex !== 0) return null;
        const upper = band.map((b) => api.coord([b[0], b[2]]));
        const lower = band.slice().reverse().map((b) => api.coord([b[0], b[1]]));
        return {
          type: "polygon",
          shape: { points: upper.concat(lower) },
          style: { fill: BAND_FILL },
        };
      },
    });

    series.push({
      type: "line",
      xAxisIndex: i,
      yAxisIndex: i,
      data: panelFits[i],
      showSymbol: false,
      symbol: "none",
      silent: true,
      z: 4,
      lineStyle: { color: FIT_COLOR, width: 2.6 },
    });

    // facet strip
    const stripTop = TOP0 + ROW_STEP * r;
    graphics.push({
      type: "rect",
      shape: { x: COL_LEFT[c] + 0.5, y: stripTop + 0.5, width: COL_W[c] - 1, height: STRIP_H - 1 },
      style: { fill: "#d9d9d9", stroke: "#7f7f7f", lineWidth: 1 },
      silent: true,
      z: 10,
    });
    graphics.push({
      type: "text",
      x: COL_LEFT[c] + COL_W[c] / 2,
      y: stripTop + STRIP_H / 2,
      style: {
        text: name,
        fontFamily: FONT,
        fontWeight: "bold",
        fontSize: 20,
        fill: "#1a1a1a",
        align: "center",
        verticalAlign: "middle",
      },
      silent: true,
      z: 11,
    });
  });

  // axis titles
  graphics.push({
    type: "text",
    x: 670,
    y: 1385,
    style: {
      text: "Total neighborhood ERA dollars ($ in millions of dollars)",
      fontFamily: FONT,
      fontWeight: "bold",
      fontSize: 23,
      lineHeight: 23,
      fill: "#111111",
      align: "center",
      verticalAlign: "middle",
    },
    silent: true,
    z: 11,
  });
  graphics.push({
    type: "text",
    x: 22,
    y: 690,
    rotation: Math.PI / 2,
    style: {
      text: "Eviction Prevention Rate (per 1,000 renters)",
      fontFamily: FONT,
      fontSize: 23,
      fill: "#1a1a1a",
      align: "center",
      verticalAlign: "middle",
    },
    silent: true,
    z: 11,
  });

  // watermark
  graphics.push({
    type: "text",
    x: 688,
    y: 655,
    rotation: (46 * Math.PI) / 180,
    style: {
      text: "BERKELEY WORKING PAPER",
      fontFamily: "'Liberation Sans', Arial, sans-serif",
      fontWeight: "bold",
      fontSize: 158,
      fill: "rgba(0,0,0,0.075)",
      align: "center",
      verticalAlign: "middle",
    },
    silent: true,
    z: 50,
  });

  return {
    animation: false,
    backgroundColor: "#ffffff",
    grid: grids,
    xAxis: xAxes,
    yAxis: yAxes,
    series,
    graphic: graphics,
  };
}

export default function App() {
  const ref = useRef<HTMLDivElement>(null);

  useEffect(() => {
    if (!ref.current) return;
    const chart = echarts.init(ref.current, undefined, { renderer: "svg" });
    chart.setOption(buildOption() as any);
    return () => chart.dispose();
  }, []);

  return (
    <div
      ref={ref}
      style={{ position: "fixed", left: 0, top: 0, width: CHART_W, height: CHART_H, background: "#fff" }}
    />
  );
}
